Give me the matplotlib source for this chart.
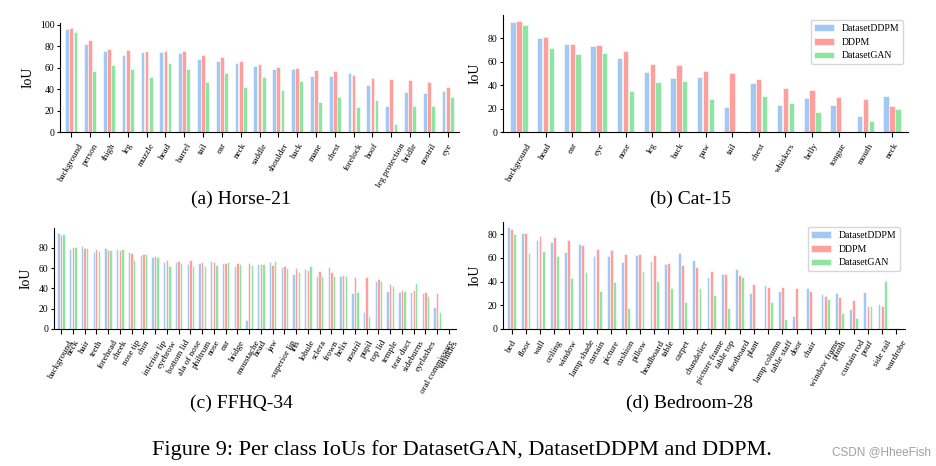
import numpy as np
import matplotlib
matplotlib.use('Agg')
import matplotlib.pyplot as plt
from matplotlib.ticker import MultipleLocator

series = ['DatasetDDPM', 'DDPM', 'DatasetGAN']
colors = ['#a1c9f4', '#ff9f9b', '#8de5a1']

horse_classes = ['background', 'person', 'thigh', 'leg', 'muzzle', 'head', 'barrel', 'tail', 'ear',
                 'neck', 'saddle', 'shoulder', 'back', 'mane', 'chest', 'forelock', 'hoof',
                 'leg protection', 'bridle', 'nostril', 'eye']
horse_datasetddpm = [96, 82, 75.5, 72, 75, 74.6, 73.7, 68, 66, 64.4, 61.3, 58.5, 58.8, 52.3, 52.3,
                     54.8, 44.3, 24.5, 37.5, 36.8, 38]
horse_ddpm = [97, 86, 77.7, 77, 75.5, 75.5, 75.5, 72, 70, 66, 64, 60.4, 60, 57.6, 57, 53.3, 50.8,
              49.8, 48.6, 46.4, 41.8]
horse_datasetgan = [93, 57, 63, 59, 51, 64.4, 58.5, 47, 55, 42, 51.4, 39.6, 47.4, 28.2, 32.8, 23.5,
                    30.3, 7.7, 24.5, 24.1, 32.8]

cat_classes = ['background', 'head', 'ear', 'eye', 'nose', 'leg', 'back', 'paw', 'tail', 'chest',
               'whiskers', 'belly', 'tongue', 'mouth', 'neck']
cat_datasetddpm = [93.4, 79.7, 75.1, 73.1, 62.9, 51.4, 46, 47.1, 21.7, 42, 22.9, 29.1, 23.1, 14, 30.6]
cat_ddpm = [94.9, 80.6, 74.9, 74, 69.1, 58, 56.9, 52.3, 50, 45.4, 37.1, 36, 30, 28, 22.3]
cat_datasetgan = [91, 71.7, 66.6, 67.7, 35.1, 42.3, 43.7, 28, 0.8, 30.9, 24.3, 17.4, 0, 9.4, 19.7]

ffhq_classes = ['background', 'neck', 'hair', 'teeth', 'forehead', 'cheek', 'nose tip', 'chin',
                'inferior lip', 'eyebrow', 'bottom lid', 'ala of nose', 'philtrum', 'nose', 'ear',
                'bridge', 'moustache', 'head', 'jaw', 'superior lip', 'iris', 'lobule', 'sclera',
                'frown', 'helix', 'nostril', 'pupil', 'top lid', 'temple', 'tear duct', 'sideburns',
                'eyelashes', 'oral commissure', 'wrinkles']
ffhq_datasetddpm = [94.8, 78.8, 81.4, 75.8, 80, 78.8, 75.5, 72.9, 70.6, 66, 66, 64, 64.7, 67, 65,
                    61.8, 9.2, 63.7, 65.7, 60.8, 54.6, 59.2, 52.3, 61.4, 52.3, 35.3, 16.3, 47.4,
                    37.3, 36.9, 36.6, 35, 21.2, 0]
ffhq_ddpm = [92.8, 81, 79.4, 79, 77.8, 77.8, 74.8, 73.5, 72.2, 68.3, 67.3, 67.6, 66.3, 65.7, 65.4,
             65, 64.7, 63.7, 63.1, 61.8, 60.1, 58.2, 56.9, 56.2, 52.9, 51.6, 51.3, 49.3, 44.1,
             38.6, 38.2, 36.3, 35.6, 0]
ffhq_datasetgan = [93.8, 81, 79.4, 76.8, 77.8, 78.8, 68, 73.5, 70.9, 62.1, 65, 62.1, 62.1, 62.7,
                   65.7, 63.7, 63.1, 63.7, 66.7, 59.8, 55.9, 61.8, 52.6, 52.3, 52.6, 36.3, 13.1,
                   47.4, 42.8, 37.6, 45.1, 32.7, 17, 0]

bedroom_classes = ['bed', 'floor', 'wall', 'ceiling', 'window', 'lamp shade', 'curtain', 'picture',
                   'cushion', 'pillow', 'headboard', 'table', 'carpet', 'chandelier',
                   'picture frame', 'table top', 'footboard', 'plant', 'lamp column', 'table staff',
                   'door', 'chair', 'window frame', 'plinth', 'curtain rod', 'pouf', 'side rail',
                   'wardrobe']
bedroom_datasetddpm = [86, 81.3, 75.5, 73, 64.6, 71.9, 61.8, 61.6, 56.8, 62.1, 57.1, 54.6, 63.8,
                       58.2, 43.7, 46, 51, 30.1, 37, 32, 11.1, 34.3, 29.5, 30.1, 16.7, 30.9, 21.2, 0]
bedroom_ddpm = [84.4, 81.3, 78.8, 77.4, 74.9, 70.5, 67.7, 66.6, 63, 63, 62.1, 55.4, 53.8, 52.6,
                49.3, 46, 45.4, 37.6, 35.7, 35.4, 34.5, 32, 27.9, 26.7, 24.2, 19.2, 19.2, 0.8]
bedroom_datasetgan = [80, 64.3, 65.5, 61.3, 43.2, 48.5, 32.3, 39.6, 18.1, 49.3, 40.1, 34.5, 22.6,
                      34.3, 28.7, 17.8, 43.7, 2, 22.6, 8.6, 0, 0, 25.3, 13.9, 8.9, 19.2, 40.7, 0]


def plot_panel(rect, classes, values, legend=False):
    ax = fig.add_axes(rect)
    x = np.arange(len(classes))
    for k in range(3):
        ax.bar(x + (k - 1) * 0.22, values[k], width=0.2, color=colors[k],
               edgecolor='white', linewidth=0.4, label=series[k])
    ax.set_xticks(x)
    ax.set_xticklabels(classes, rotation=60, fontsize=6.5)
    ax.set_xlim(-0.6, len(classes) - 0.4)
    ax.yaxis.set_major_locator(MultipleLocator(20))
    ax.tick_params(axis='y', labelsize=7, length=2, pad=2)
    ax.set_ylabel('IoU', fontsize=10, labelpad=4)
    for side in ['top', 'right']:
        ax.spines[side].set_visible(False)
    if legend:
        ax.legend(fontsize=7, loc='upper right')
    return ax


plt.rcParams['font.family'] = 'serif'
plt.rcParams['font.serif'] = ['Liberation Serif', 'DejaVu Serif']

W, H = 936, 466
fig = plt.figure(figsize=(W / 100, H / 100), dpi=100)

plot_panel([60 / W, 1 - 132 / H, 399 / W, 109 / H], horse_classes,
           [horse_datasetddpm, horse_ddpm, horse_datasetgan])
plot_panel([503 / W, 1 - 132 / H, 405 / W, 117 / H], cat_classes,
           [cat_datasetddpm, cat_ddpm, cat_datasetgan], legend=True)
plot_panel([54 / W, 1 - 329 / H, 402 / W, 101 / H], ffhq_classes,
           [ffhq_datasetddpm, ffhq_ddpm, ffhq_datasetgan])
plot_panel([503 / W, 1 - 329 / H, 402 / W, 107 / H], bedroom_classes,
           [bedroom_datasetddpm, bedroom_ddpm, bedroom_datasetgan], legend=True)

fig.text(241 / W, 1 - 199 / H, '(a) Horse-21', ha='center', va='center', fontsize=14)
fig.text(690 / W, 1 - 199 / H, '(b) Cat-15', ha='center', va='center', fontsize=14)
fig.text(241 / W, 1 - 403 / H, '(c) FFHQ-34', ha='center', va='center', fontsize=14)
fig.text(690 / W, 1 - 403 / H, '(d) Bedroom-28', ha='center', va='center', fontsize=14)
fig.text(462 / W, 1 - 450 / H, 'Figure 9: Per class IoUs for DatasetGAN, DatasetDDPM and DDPM.',
         ha='center', va='center', fontsize=16)
fig.text(881 / W, 1 - 452 / H, 'CSDN @HheeFish', ha='center', va='center', fontsize=8.5,
         color='#a0a0a0', family='Liberation Sans')

fig.savefig('out.png', dpi=100)
